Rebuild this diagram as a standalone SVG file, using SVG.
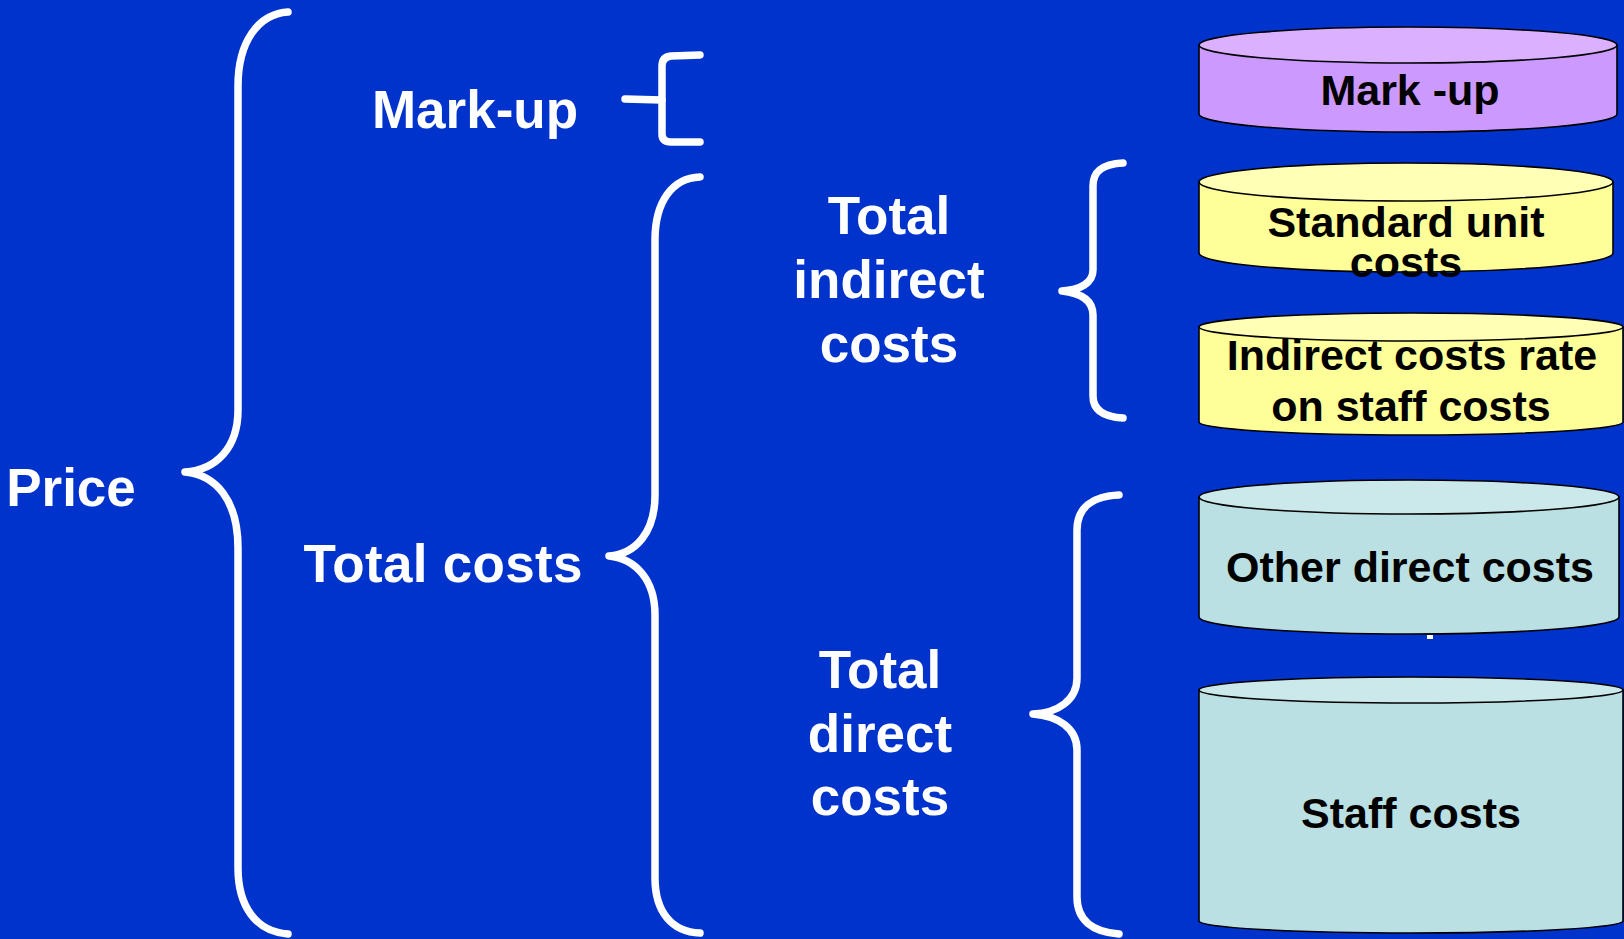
<svg xmlns="http://www.w3.org/2000/svg" width="1624" height="939" viewBox="0 0 1624 939">
<style>
.brace{fill:none;stroke:#FFFFFF;stroke-width:7.5;stroke-linecap:round;stroke-linejoin:round}
.wt{font-family:"Liberation Sans",Arial,sans-serif;font-weight:bold;font-size:53px;fill:#FFFFFF;text-anchor:middle}
.bt{font-family:"Liberation Sans",Arial,sans-serif;font-weight:bold;font-size:43px;fill:#000000;text-anchor:middle}
.cyl{stroke:#000000;stroke-width:1.6}
.purple{fill:#CC99FF}.purpleTop{fill:#DAB0FF}
.yellow{fill:#FFFF99}.yellowTop{fill:#FFFFB5}
.teal{fill:#BAE0E3}.tealTop{fill:#CBE8EA}
</style>
<rect x="0" y="0" width="1624" height="939" fill="#0033CC"/>

<g id="connectors">
  <path class="brace" d="M288,12 C258,14 238,42 238,86 L238,410 C238,448 216,470 185,472 C216,475 238,500 238,548 L238,868 C238,906 256,932 288,934"/>
  <path class="brace" d="M700,55 L671,56 Q662,57 662,66 L662,134 Q662,142 671,142 L700,142"/>
  <path class="brace" d="M625,99 L662,100"/>
  <path class="brace" d="M700,177 C672,178 655,202 655,240 L655,495 C655,532 636,554 609,556 C636,559 655,580 655,615 L655,878 C655,912 672,932 700,933"/>
  <path class="brace" d="M1123,163 C1104,164 1093,170 1093,186 L1093,270 C1093,283 1080,290 1062,291 C1080,293 1093,300 1093,315 L1093,396 C1093,410 1104,417 1123,418"/>
  <path class="brace" d="M1119,495 C1092,496 1077,508 1077,530 L1077,678 C1077,700 1058,713 1033,714 C1058,716 1077,728 1077,750 L1077,897 C1077,920 1092,932 1119,934"/>
</g>

<g id="label-price"><text class="wt" x="71" y="506">Price</text></g>
<g id="label-markup"><text class="wt" x="475" y="128">Mark-up</text></g>
<g id="label-totalcosts"><text class="wt" x="443" y="582" textLength="279" lengthAdjust="spacing">Total costs</text></g>
<g id="label-totalindirect">
  <text class="wt" x="889" y="234">Total</text>
  <text class="wt" x="889" y="298">indirect</text>
  <text class="wt" x="889" y="362">costs</text>
</g>
<g id="label-totaldirect">
  <text class="wt" x="880" y="688">Total</text>
  <text class="wt" x="880" y="752">direct</text>
  <text class="wt" x="880" y="815">costs</text>
</g>

<g id="cyl-markup">
  <path class="cyl purple" d="M1199,45 L1199,114 A209,18 0 0 0 1617,114 L1617,45 Z"/>
  <ellipse class="cyl purpleTop" cx="1408" cy="45" rx="209" ry="18"/>
  <text class="bt" x="1410" y="105">Mark -up</text>
</g>
<g id="cyl-standard">
  <path class="cyl yellow" d="M1199,182 L1199,253 A207,19 0 0 0 1613,253 L1613,182 Z"/>
  <ellipse class="cyl yellowTop" cx="1406" cy="182" rx="207" ry="19"/>
  <text class="bt" x="1406" y="237">Standard unit</text>
  <text class="bt" x="1406" y="277">costs</text>
</g>
<g id="cyl-indirect">
  <path class="cyl yellow" d="M1199,327 L1199,422 A212,13 0 0 0 1623,422 L1623,327 Z"/>
  <ellipse class="cyl yellowTop" cx="1411" cy="327" rx="212" ry="14"/>
  <text class="bt" x="1412" y="370">Indirect costs rate</text>
  <text class="bt" x="1411" y="421">on staff costs</text>
</g>
<g id="cyl-otherdirect">
  <path class="cyl teal" d="M1199,497 L1199,617 A210,17 0 0 0 1619,617 L1619,497 Z"/>
  <ellipse class="cyl tealTop" cx="1409" cy="497" rx="210" ry="17"/>
  <text class="bt" x="1410" y="582">Other direct costs</text>
</g>
<rect x="1427" y="635" width="6" height="4" fill="#FFFFFF"/>
<g id="cyl-staff">
  <path class="cyl teal" d="M1199,690 L1199,921 A212,12 0 0 0 1623,921 L1623,690 Z"/>
  <ellipse class="cyl tealTop" cx="1411" cy="690" rx="212" ry="13"/>
  <text class="bt" x="1411" y="828">Staff costs</text>
</g>
</svg>
